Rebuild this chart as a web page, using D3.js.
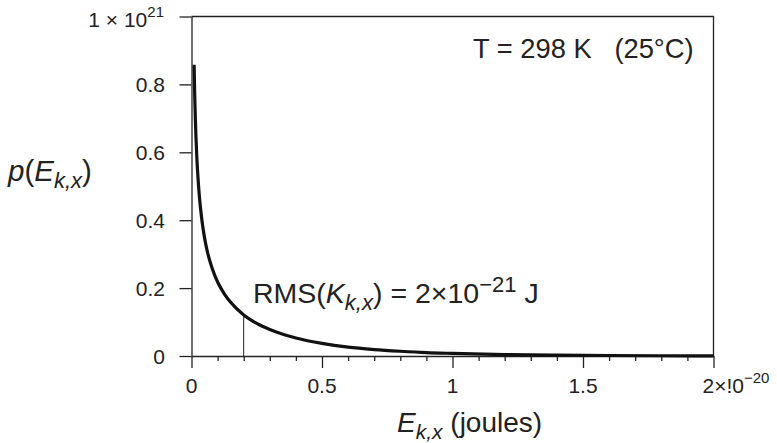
<!DOCTYPE html>
<html>
<head>
<meta charset="utf-8">
<script src="https://cdn.jsdelivr.net/npm/d3@7"></script>
<style>
  html, body { margin: 0; padding: 0; background: #fff; }
  svg { display: block; font-family: "Liberation Sans", Arial, Helvetica, sans-serif; }
</style>
</head>
<body>
<svg id="chart" width="777" height="443"></svg>
<script>
// ---- data (energy in units of 1e-20 J, density in units of 1e21 J^-1) ----
const energies = [0.01, 0.0125, 0.015, 0.02, 0.025, 0.03, 0.04, 0.05, 0.06, 0.08, 0.1, 0.125, 0.15, 0.2, 0.25, 0.3, 0.35, 0.4, 0.5, 0.6, 0.7, 0.8, 0.9, 1.0, 1.2, 1.4, 1.6, 1.8, 2.0];
const density  = [0.858, 0.763, 0.693, 0.592, 0.524, 0.472, 0.399, 0.348, 0.310, 0.256, 0.218, 0.184, 0.158, 0.121, 0.096, 0.078, 0.064, 0.053, 0.037, 0.026, 0.019, 0.014, 0.010, 0.0077, 0.0043, 0.0025, 0.0014, 0.0008, 0.0005];
const rmsEnergy = 0.2;
const rmsDensity = 0.121;

const xMajorTicks = [0, 0.5, 1, 1.5, 2];
const xMajorLabels = ["0", "0.5", "1", "1.5", "2×!0"];
const xLastSup = "−20";
const xMinorTicks = [0.1, 0.2, 0.3, 0.4, 0.6, 0.7, 0.8, 0.9, 1.1, 1.2, 1.3, 1.4, 1.6, 1.7, 1.8, 1.9];
const yTicks = [0, 0.2, 0.4, 0.6, 0.8, 1];
const yLabels = ["0", "0.2", "0.4", "0.6", "0.8", "1 × 10"];
const yTopSup = "21";

(function () {
  const svg = d3.select("#chart");
  const mLeft = 191.5, mRight = 713.5, mTop = 16.5, mBottom = 356;
  const x = d3.scaleLinear().domain([0, 2]).range([mLeft, mRight]);
  const y = d3.scaleLinear().domain([0, 1]).range([mBottom, mTop]);
  const ink = "#222";

  // frame (top and right)
  svg.append("path")
    .attr("d", `M${mLeft},${mTop}H${mRight}V${mBottom}`)
    .attr("fill", "none").attr("stroke", ink).attr("stroke-width", 1.3);

  // x axis major
  svg.append("g").attr("transform", `translate(0,${mBottom})`)
    .call(d3.axisBottom(x).tickValues(xMajorTicks).tickSize(12).tickSizeOuter(0).tickFormat(""));
  // x axis minor
  const gxm = svg.append("g").attr("transform", `translate(0,${mBottom})`)
    .call(d3.axisBottom(x).tickValues(xMinorTicks).tickSize(5).tickSizeOuter(0).tickFormat(""));
  gxm.select(".domain").remove();
  // y axis
  svg.append("g").attr("transform", `translate(${mLeft},0)`)
    .call(d3.axisLeft(y).tickValues(yTicks).tickSize(12).tickSizeOuter(0).tickFormat(""));

  svg.selectAll(".domain").attr("stroke", ink).attr("stroke-width", 1.3);
  svg.selectAll(".tick line").attr("stroke", ink).attr("stroke-width", 1.3);

  // x tick labels
  xMajorTicks.forEach((v, i) => {
    const last = i === xMajorTicks.length - 1;
    const t = svg.append("text")
      .attr("x", last ? x(v) - 11 : x(v))
      .attr("y", 392.5)
      .attr("text-anchor", last ? "start" : "middle")
      .attr("font-size", 21).attr("fill", ink)
      .text(xMajorLabels[i]);
    if (last) {
      t.append("tspan").attr("dy", -10).attr("font-size", 15).text(xLastSup);
    }
  });

  // y tick labels
  yTicks.forEach((v, i) => {
    const last = i === yTicks.length - 1;
    const t = svg.append("text")
      .attr("x", last ? 164 : 165)
      .attr("y", last ? y(v) + 10 : y(v) + 7.5)
      .attr("text-anchor", "end")
      .attr("font-size", 21).attr("fill", ink)
      .text(yLabels[i]);
    if (last) {
      t.append("tspan").attr("dy", -10).attr("font-size", 15).text(yTopSup);
    }
  });

  // curve
  const line = d3.line().x((d, i) => x(energies[i])).y(d => y(d)).curve(d3.curveMonotoneX);
  svg.append("path").datum(density)
    .attr("d", line)
    .attr("fill", "none").attr("stroke", "#111").attr("stroke-width", 3.2);

  // RMS marker line
  svg.append("line")
    .attr("x1", x(rmsEnergy)).attr("x2", x(rmsEnergy))
    .attr("y1", y(0)).attr("y2", y(rmsDensity))
    .attr("stroke", ink).attr("stroke-width", 1);

  // annotations
  svg.append("text").attr("x", 473).attr("y", 58)
    .attr("font-size", 27.3).attr("fill", ink).attr("xml:space", "preserve")
    .text("T = 298 K   (25°C)");

  const rms = svg.append("text").attr("x", 253).attr("y", 303)
    .attr("font-size", 28.5).attr("fill", ink).attr("xml:space", "preserve");
  rms.append("tspan").text("RMS(");
  rms.append("tspan").attr("font-style", "italic").text("K");
  rms.append("tspan").attr("font-style", "italic").attr("font-size", 22).attr("dy", 7).text("k,x");
  rms.append("tspan").attr("dy", -7).text(") = 2×10");
  rms.append("tspan").attr("font-size", 22).attr("dy", -11).text("−21");
  rms.append("tspan").attr("dy", 11).text(" J");

  // axis titles
  const xt = svg.append("text").attr("x", 397).attr("y", 432)
    .attr("font-size", 28).attr("fill", ink).attr("xml:space", "preserve");
  xt.append("tspan").attr("font-style", "italic").text("E");
  xt.append("tspan").attr("font-style", "italic").attr("font-size", 21).attr("dy", 7).text("k,x");
  xt.append("tspan").attr("dy", -7).text(" (joules)");

  const yt = svg.append("text").attr("x", 8).attr("y", 181)
    .attr("font-size", 29.5).attr("fill", ink);
  yt.append("tspan").attr("font-style", "italic").text("p");
  yt.append("tspan").text("(");
  yt.append("tspan").attr("font-style", "italic").text("E");
  yt.append("tspan").attr("font-style", "italic").attr("font-size", 22).attr("dy", 7).text("k,x");
  yt.append("tspan").attr("dy", -7).text(")");
})();
</script>
</body>
</html>
